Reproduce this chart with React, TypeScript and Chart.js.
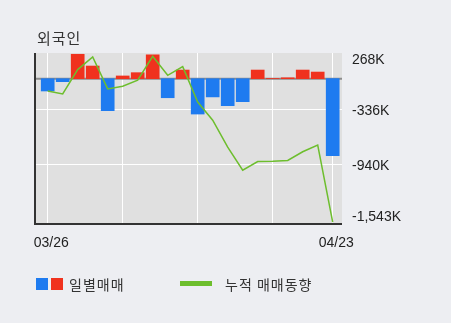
import React, { useEffect, useRef } from 'react';
import { Chart, registerables } from 'chart.js';

Chart.register(...registerables);

const dates = ['03/26', '03/27', '03/28', '03/29', '04/01', '04/02', '04/03', '04/04', '04/05', '04/08',
  '04/09', '04/11', '04/12', '04/15', '04/16', '04/17', '04/18', '04/19', '04/22', '04/23'];
const dailyNet = [-135, -33, 268, 139, -351, 30, 66, 262, -209, 95, -388, -200, -296, -252, 95, 2, 10, 95, 73, -845];
const cumulative = [-135, -168, 100, 239, -112, -82, -16, 246, 37, 132, -256, -456, -752, -1004, -909, -907, -897, -802, -729, -1574];
const yTickValues = [268, -336, -940, -1543];
const yTickLabels = ['268K', '-336K', '-940K', '-1,543K'];
const xLabelIndexes = [0, 19];
const gridIndexes = [0, 5, 10, 15, 19];

const FONT = '"Noto Sans CJK KR", "Noto Sans", sans-serif';
const TICK_FONT = '14px "Liberation Sans", Arial, sans-serif';

export default function App() {
  const ref = useRef<HTMLCanvasElement>(null);

  useEffect(() => {
    document.body.style.margin = '0';
    const canvas = ref.current!;
    const decor = {
      id: 'decor',
      beforeDraw(chart: any) {
        const { ctx, chartArea: a } = chart;
        ctx.save();
        ctx.fillStyle = '#E0E0E0';
        ctx.fillRect(a.left, a.top, a.right - a.left, a.bottom - a.top);
        ctx.restore();
      },
      beforeDatasetsDraw(chart: any) {
        const { ctx, chartArea: a } = chart;
        const y0 = chart.scales.y.getPixelForValue(0);
        ctx.save();
        ctx.strokeStyle = '#8C8C8C';
        ctx.lineWidth = 2;
        ctx.beginPath();
        ctx.moveTo(a.left, y0);
        ctx.lineTo(a.right, y0);
        ctx.stroke();
        ctx.restore();
      },
      afterDraw(chart: any) {
        const { ctx, chartArea: a } = chart;
        const ys = chart.scales.y;
        const xs = chart.scales.x;
        ctx.save();
        ctx.strokeStyle = '#333333';
        ctx.lineWidth = 2;
        ctx.beginPath();
        ctx.moveTo(a.left - 1, a.top);
        ctx.lineTo(a.left - 1, a.bottom + 1);
        ctx.lineTo(a.right, a.bottom + 1);
        ctx.stroke();
        ctx.fillStyle = '#222222';
        ctx.font = TICK_FONT;
        ctx.textBaseline = 'middle';
        ctx.textAlign = 'left';
        yTickValues.forEach((v, i) => {
          let py = ys.getPixelForValue(v) + 2;
          py = Math.max(a.top + 7, Math.min(a.bottom - 6, py));
          ctx.fillText(yTickLabels[i], a.right + 10, py);
        });
        ctx.textAlign = 'center';
        xLabelIndexes.forEach((idx) => {
          ctx.fillText(dates[idx], xs.getPixelForValue(idx) + 3.5, a.bottom + 20);
        });
        ctx.restore();
      },
    };

    const chart = new Chart(canvas, {
      type: 'bar',
      data: {
        datasets: [
          {
            type: 'line',
            label: '누적 매매동향',
            data: cumulative.map((v, i) => ({ x: i, y: v })),
            borderColor: '#6DBE2D',
            borderWidth: 1.5,
            pointRadius: 0,
            tension: 0,
            order: 0,
          } as any,
          {
            type: 'bar',
            label: '일별매매',
            data: dailyNet.map((v, i) => ({ x: i, y: v })),
            backgroundColor: dailyNet.map((v) => (v >= 0 ? '#F0321E' : '#1E7BF0')),
            barThickness: 13,
            order: 1,
          },
        ],
      },
      options: {
        responsive: false,
        animation: false,
        devicePixelRatio: 1,
        layout: { padding: { left: 36, top: 53, right: 109, bottom: 100 } },
        plugins: { legend: { display: false }, tooltip: { enabled: false }, title: { display: false } },
        scales: {
          x: {
            type: 'linear',
            offset: false,
            min: -0.78,
            max: 19.62,
            afterBuildTicks: (s: any) => {
              s.ticks = gridIndexes.map((v) => ({ value: v }));
            },
            grid: { color: '#FFFFFF', lineWidth: 1, drawTicks: false, offset: false },
            border: { display: false },
            ticks: { display: false },
          },
          y: {
            position: 'right',
            min: -1584,
            max: 282,
            afterBuildTicks: (s: any) => {
              s.ticks = yTickValues.slice(1, 3).map((v) => ({ value: v }));
            },
            grid: { color: '#FFFFFF', lineWidth: 1, drawTicks: false },
            border: { display: false },
            ticks: { display: false },
          },
        },
      } as any,
      plugins: [decor],
    });
    return () => chart.destroy();
  }, []);

  const textStyle: React.CSSProperties = { position: 'absolute', fontSize: 14, lineHeight: '16px', color: '#333', whiteSpace: 'nowrap', letterSpacing: 1 };

  return (
    <div style={{ position: 'fixed', left: 0, top: 0, width: 451, height: 323, background: '#EDEEF2', fontFamily: FONT, overflow: 'hidden' }}>
      <canvas ref={ref} width={451} height={323} style={{ position: 'absolute', left: 0, top: 0, width: 451, height: 323 }} />
      <div style={{ ...textStyle, left: 37, top: 30, fontSize: 15 }}>외국인</div>
      <div style={{ position: 'absolute', left: 36, top: 278, width: 12, height: 12, background: '#1E7BF0' }} />
      <div style={{ position: 'absolute', left: 51, top: 278, width: 12, height: 12, background: '#F0321E' }} />
      <div style={{ ...textStyle, left: 69, top: 276 }}>일별매매</div>
      <div style={{ position: 'absolute', left: 180, top: 281, width: 32, height: 5, background: '#6DBE2D' }} />
      <div style={{ ...textStyle, left: 225, top: 276 }}>누적 매매동향</div>
    </div>
  );
}
